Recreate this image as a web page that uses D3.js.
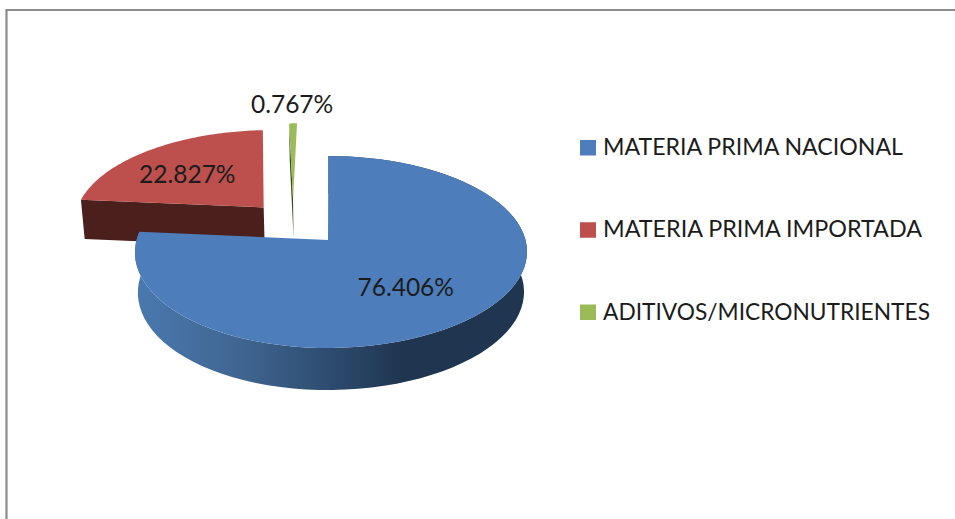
<!DOCTYPE html>
<html><head><meta charset="utf-8">
<script src="https://cdn.jsdelivr.net/npm/d3@7"></script>
<style>html,body{margin:0;padding:0;background:#fff;overflow:hidden}svg{display:block}text{font-family:Lato,"Open Sans",sans-serif;fill:#1c1c1c}</style>
</head><body>
<script>
// Data
const categories = ["MATERIA PRIMA NACIONAL", "MATERIA PRIMA IMPORTADA", "ADITIVOS/MICRONUTRIENTES"];
const values = [76.406, 22.827, 0.767];

// Styles and layout
const topColors = ["#4d7dba", "#bd504d", "#9bbb59"];
const W = 955, H = 519;
const explode = [0, 0.5, 0.46];
const sliceShift = [0, -3, -38];
const labelRadius = [0.62, 0.53, 1.28];
const labelNudge = [[-9, 2], [-14, -1], [-1, -1]];
const legendWidths = [300, 319, 327];
const cx = 331, cy = 240, A = 194.5, B = 94.5, K = 0.125, BOW = -3;

const svg = d3.select("body").append("svg").attr("width", W).attr("height", H);
svg.append("rect").attr("width", W).attr("height", H).attr("fill", "#fff");
svg.append("path").attr("d", d3.line()([[6.5, H], [6.5, 10], [W, 10]]))
  .attr("fill", "none").attr("stroke", "#8c8c8c").attr("stroke-width", 2.2);

const defs = svg.append("defs");
const grad = defs.append("linearGradient").attr("id", "blueSide")
  .attr("gradientUnits", "userSpaceOnUse").attr("x1", 136).attr("x2", 403).attr("y1", 0).attr("y2", 0);
[[0, "#4a79b0"], [0.4, "#3f6590"], [0.72, "#2e4c70"], [1, "#1f3550"]]
  .forEach(([o, c]) => grad.append("stop").attr("offset", o).attr("stop-color", c));

// Perspective projection of a point on the pie plane; depth = 0 top face, 1 bottom face
function project(angle, r, e, depth) {
  const u = Math.sin(angle) * r + Math.sin(e.mid) * e.ex;
  const v = Math.cos(angle) * r + Math.cos(e.mid) * e.ex;
  const d = 1 + K * v;
  const shift = e.i === 0 ? BOW * (1 - u * u) : sliceShift[e.i];
  let X = cx + (A * u + shift) / d;
  let Y = cy - B * v / d;
  if (depth) { X = cx + 0.985 * (X - cx); Y += 40 - 2 * v; }
  return [X, Y];
}

const arcs = d3.pie().sort(null).value(d => d)(values).map((a, i) => ({
  ...a, i, mid: (a.startAngle + a.endAngle) / 2, ex: explode[i]
}));
const line = d3.line();
const sample = (a0, a1) => d3.range(0, 81).map(k => a0 + (a1 - a0) * k / 80);

const sideColors = [null, "#4a1f1c", "#3a4c1e"];
const layer = svg.append("g");

// Back to front: green, red, blue
[arcs[2], arcs[1], arcs[0]].forEach(a => {
  if (a.i === 0) {
    const ang = sample(a.startAngle, a.endAngle);
    const top = ang.map(t => project(t, 1, a, 0));
    const bot = ang.map(t => project(t, 1, a, 1)).reverse();
    layer.append("path").attr("d", line(top.concat(bot)) + "Z").attr("fill", "url(#blueSide)");
  } else {
    const edge = a.startAngle;
    const quad = [project(edge, 1, a, 0), project(edge, 0, a, 0), project(edge, 0, a, 1), project(edge, 1, a, 1)];
    layer.append("path").attr("d", line(quad) + "Z").attr("fill", sideColors[a.i]);
  }
  const pts = [project(0, 0, a, 0)].concat(sample(a.startAngle, a.endAngle).map(t => project(t, 1, a, 0)));
  layer.append("path").attr("d", line(pts) + "Z").attr("fill", topColors[a.i]);
});

// Value labels
const fmt = d3.format(".3f");
const labelSize = 24.5;
arcs.forEach(a => {
  const p = project(a.mid, labelRadius[a.i], a, 0);
  svg.append("text").attr("x", p[0] + labelNudge[a.i][0]).attr("y", p[1] + labelNudge[a.i][1])
    .attr("dy", "0.35em").attr("text-anchor", "middle").attr("font-size", labelSize)
    .text(fmt(values[a.i]) + "%");
});

// Legend
const rowY = d3.scalePoint().domain(categories).range([147.5, 312]);
const legend = svg.append("g").selectAll("g").data(categories).join("g")
  .attr("transform", d => `translate(0,${rowY(d)})`);
legend.append("rect").attr("x", 580).attr("y", -7.5).attr("width", 16).attr("height", 15.5)
  .attr("fill", (d, i) => topColors[i]);
legend.append("text").attr("x", 603).attr("y", 7.5).attr("font-size", 23)
  .attr("textLength", (d, i) => legendWidths[i]).attr("lengthAdjust", "spacingAndGlyphs").text(d => d);
</script>
</body></html>
